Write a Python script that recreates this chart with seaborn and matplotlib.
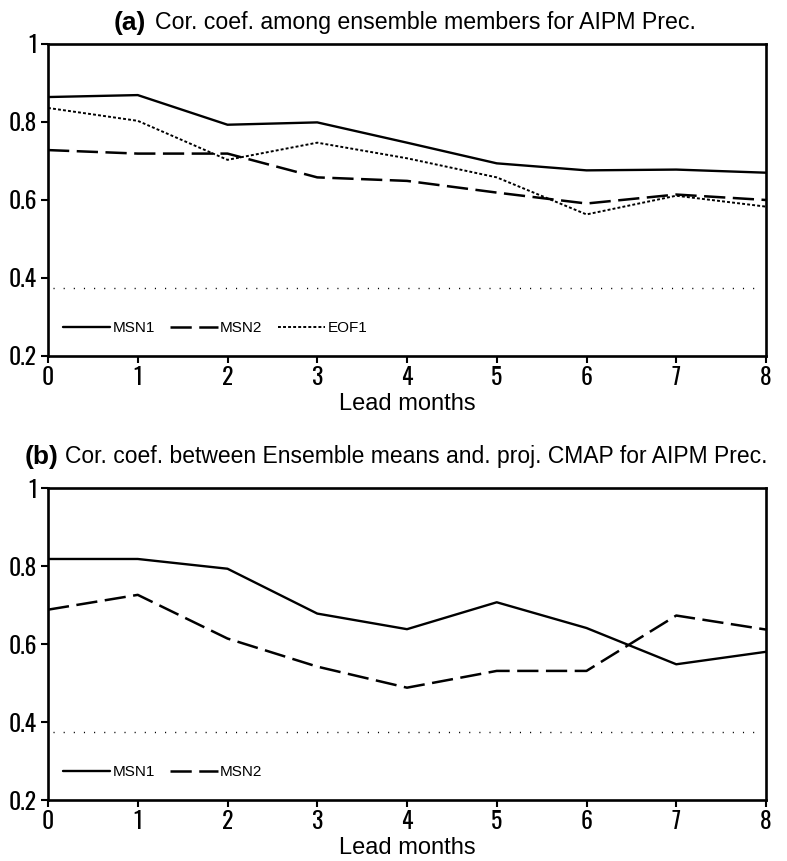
import matplotlib
matplotlib.use("Agg")
import matplotlib.pyplot as plt
import seaborn as sns
import pandas as pd

# Lead time (months)
lead = [0, 1, 2, 3, 4, 5, 6, 7, 8]

# (a) correlation among ensemble members
a_msn1 = [0.864, 0.869, 0.793, 0.799, 0.747, 0.694, 0.676, 0.678, 0.670]
a_msn2 = [0.728, 0.719, 0.719, 0.658, 0.649, 0.619, 0.591, 0.614, 0.600]
a_eof1 = [0.836, 0.803, 0.703, 0.747, 0.707, 0.658, 0.563, 0.611, 0.583]

# (b) correlation between ensemble means and projected CMAP
b_msn1 = [0.818, 0.818, 0.793, 0.678, 0.638, 0.707, 0.641, 0.548, 0.580]
b_msn2 = [0.688, 0.726, 0.614, 0.542, 0.488, 0.531, 0.531, 0.673, 0.637]

# significance level
sig_level = 0.374

y_ticks = [0.2, 0.4, 0.6, 0.8, 1.0]
y_ticklabels = ["0.2", "0.4", "0.6", "0.8", "1"]

title_a_tag = "(a)"
title_a = "Cor. coef. among ensemble members for AIPM Prec."
title_b_tag = "(b)"
title_b = "Cor. coef. between Ensemble means and. proj. CMAP for AIPM Prec."
xlabel = "Lead months"

sns.set_style("ticks")
plt.rcParams["font.family"] = ["Liberation Sans", "DejaVu Sans"]
plt.rcParams.update({
    "text.color": "black",
    "axes.labelcolor": "black",
    "xtick.color": "black",
    "ytick.color": "black",
    "axes.edgecolor": "black",
})
tick_font = ["Oswald", "Roboto Condensed", "DejaVu Sans"]

W, H = 787, 861
fig = plt.figure(figsize=(W / 100, H / 100), dpi=100)

ax_a = fig.add_axes([48 / W, 1 - 356 / H, 718 / W, 312 / H])
ax_b = fig.add_axes([48 / W, 1 - 800 / H, 718 / W, 312 / H])

styles = {
    "MSN1": dict(lw=1.7, dashes=None),
    "MSN2": dict(lw=1.8, dashes=(8.5, 3.0)),
    "EOF1": dict(lw=1.4, dashes=(1.5, 1.1)),
}


def draw(ax, series):
    df = pd.DataFrame({"lead": lead})
    for name, vals in series:
        df[name] = vals
        st = styles[name]
        sns.lineplot(data=df, x="lead", y=name, ax=ax, color="black",
                     lw=st["lw"], label=name)
        line = ax.get_lines()[-1]
        if st["dashes"] is not None:
            line.set_dashes(st["dashes"])
    ax.axhline(sig_level, color="black", lw=1.0, ls=(0, (0.8, 6.5)), xmin=0.007, xmax=0.995)
    ax.set_xlim(0, 8)
    ax.set_ylim(0.2, 1.0)
    ax.set_xticks(lead)
    ax.set_yticks(y_ticks)
    ax.set_yticklabels(y_ticklabels)
    for lab in ax.get_xticklabels() + ax.get_yticklabels():
        lab.set_family(tick_font)
        lab.set_fontsize(17)
        lab.set_fontweight("medium")
        lab.set_fontstretch("condensed")
        lab.set_color("black")
    ax.tick_params(direction="out", length=5, width=1.5, pad=2, colors="black")
    ax.tick_params(axis="y", pad=3)
    for sp in ax.spines.values():
        sp.set_visible(True)
        sp.set_linewidth(1.9)
        sp.set_color("black")
    ax.set_xlabel(xlabel, fontsize=17, labelpad=3, color="black")
    ax.set_ylabel("")
    ax.grid(False)
    leg = ax.legend(loc="center left", bbox_to_anchor=(0.021, 0.09), ncol=len(series),
                    frameon=False, fontsize=11, handlelength=3.1, handletextpad=0.15,
                    columnspacing=1.0, borderaxespad=0, borderpad=0)
    for t in leg.get_texts():
        t.set_color("black")


draw(ax_a, [("MSN1", a_msn1), ("MSN2", a_msn2), ("EOF1", a_eof1)])
draw(ax_b, [("MSN1", b_msn1), ("MSN2", b_msn2)])

# panel titles: bold tag followed by the caption
fig.text(114 / W, 1 - 23 / H, title_a_tag, fontsize=19, fontweight="bold", va="center", ha="left", color="black")
fig.text(155 / W, 1 - 23 / H, title_a, fontsize=16.7, va="center", ha="left", color="black")
fig.text(25 / W, 1 - 457 / H, title_b_tag, fontsize=19, fontweight="bold", va="center", ha="left", color="black")
fig.text(65 / W, 1 - 457 / H, title_b, fontsize=16.5, va="center", ha="left", color="black")

fig.savefig("out.png", dpi=100, facecolor="white")
